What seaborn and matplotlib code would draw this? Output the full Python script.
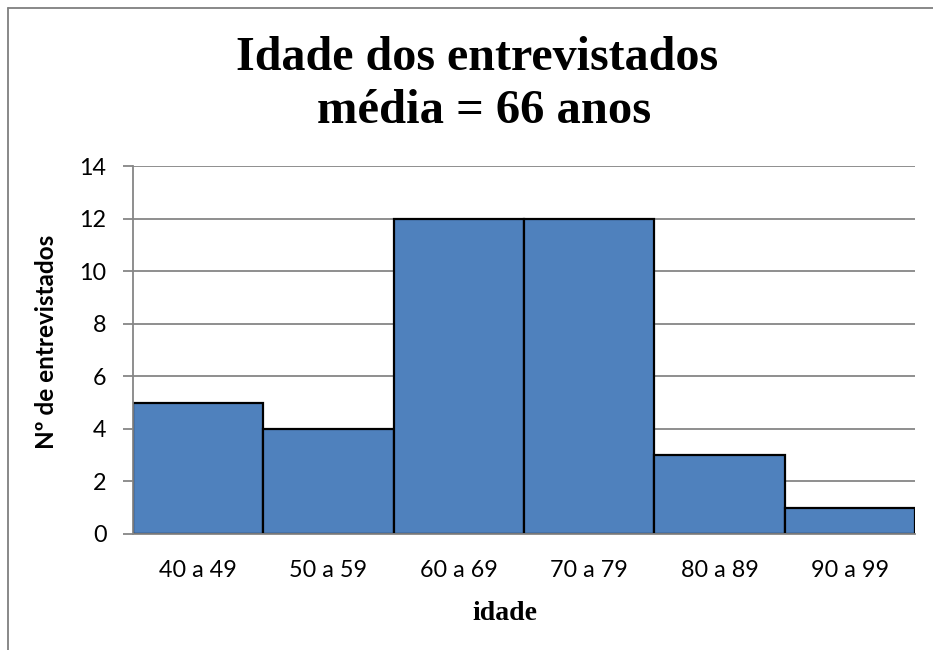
import numpy as np
import seaborn as sns
import matplotlib.pyplot as plt
from matplotlib.lines import Line2D

# dados do grafico
faixas = ["40 a 49", "50 a 59", "60 a 69", "70 a 79", "80 a 89", "90 a 99"]
contagem = [5, 4, 12, 12, 3, 1]
y_ticks = [0, 2, 4, 6, 8, 10, 12, 14]

sns.set_style("white")
plt.rcParams['font.family'] = ['Lato', 'DejaVu Sans']
plt.rcParams['text.color'] = "black"

W, H = 933, 650
fig = plt.figure(figsize=(W / 100, H / 100), dpi=100)
ax = fig.add_axes([133 / W, 1 - 534 / H, (915 - 133) / W, (534 - 166) / H])

grid_col = "#868686"

sns.barplot(
    x=faixas, y=contagem, ax=ax,
    color="#4F81BD", saturation=1,
    edgecolor="black", linewidth=1.6, width=1.0,
)

ax.set_xlim(-0.5, len(faixas) - 0.5)
ax.set_ylim(0, 14)
ax.set_yticks(y_ticks)
ax.yaxis.grid(True, color=grid_col, linewidth=1.3)
ax.set_axisbelow(True)

# marcas do eixo x nas fronteiras das classes
ax.set_xticks(np.arange(-0.5, len(faixas)), minor=True)
ax.tick_params(axis="x", which="major", length=0, pad=19, labelsize=16.8, labelcolor="black")
ax.tick_params(axis="x", which="minor", length=7, width=1.3, color=grid_col, direction="out")
ax.tick_params(axis="y", length=7, width=1.3, color=grid_col, direction="out",
               pad=12, labelsize=16.8, labelcolor="black")
ax.tick_params(bottom=True, left=True)

for side in ["top", "right"]:
    ax.spines[side].set_visible(False)
for side in ["left", "bottom"]:
    ax.spines[side].set_color(grid_col)
    ax.spines[side].set_linewidth(1.3)

ax.set_xlabel("")
ax.set_ylabel("")

# textos
fig.text(477 / W, 1 - 58 / H, "Idade dos entrevistados", ha="center", va="center",
         family="Liberation Serif", fontweight="bold", fontsize=34.6, color="black")
fig.text(484 / W, 1 - 111 / H, "média = 66 anos", ha="center", va="center",
         family="Liberation Serif", fontweight="bold", fontsize=35, color="black")
fig.text(505 / W, 1 - 613 / H, "idade", ha="center", va="center",
         family="Liberation Serif", fontweight="bold", fontsize=20, color="black")
fig.text(47 / W, 1 - 342 / H, "Nº de entrevistados", ha="center", va="center",
         rotation=90, fontweight="bold", fontsize=17.5, color="black")

# moldura da area do grafico
fig.add_artist(Line2D([8 / W, 8 / W], [0, 1 - 8 / H], color="#7f7f7f", linewidth=1.3))
fig.add_artist(Line2D([8 / W, 1], [1 - 8 / H, 1 - 8 / H], color="#7f7f7f", linewidth=1.3))

fig.savefig("out.png", dpi=100)
